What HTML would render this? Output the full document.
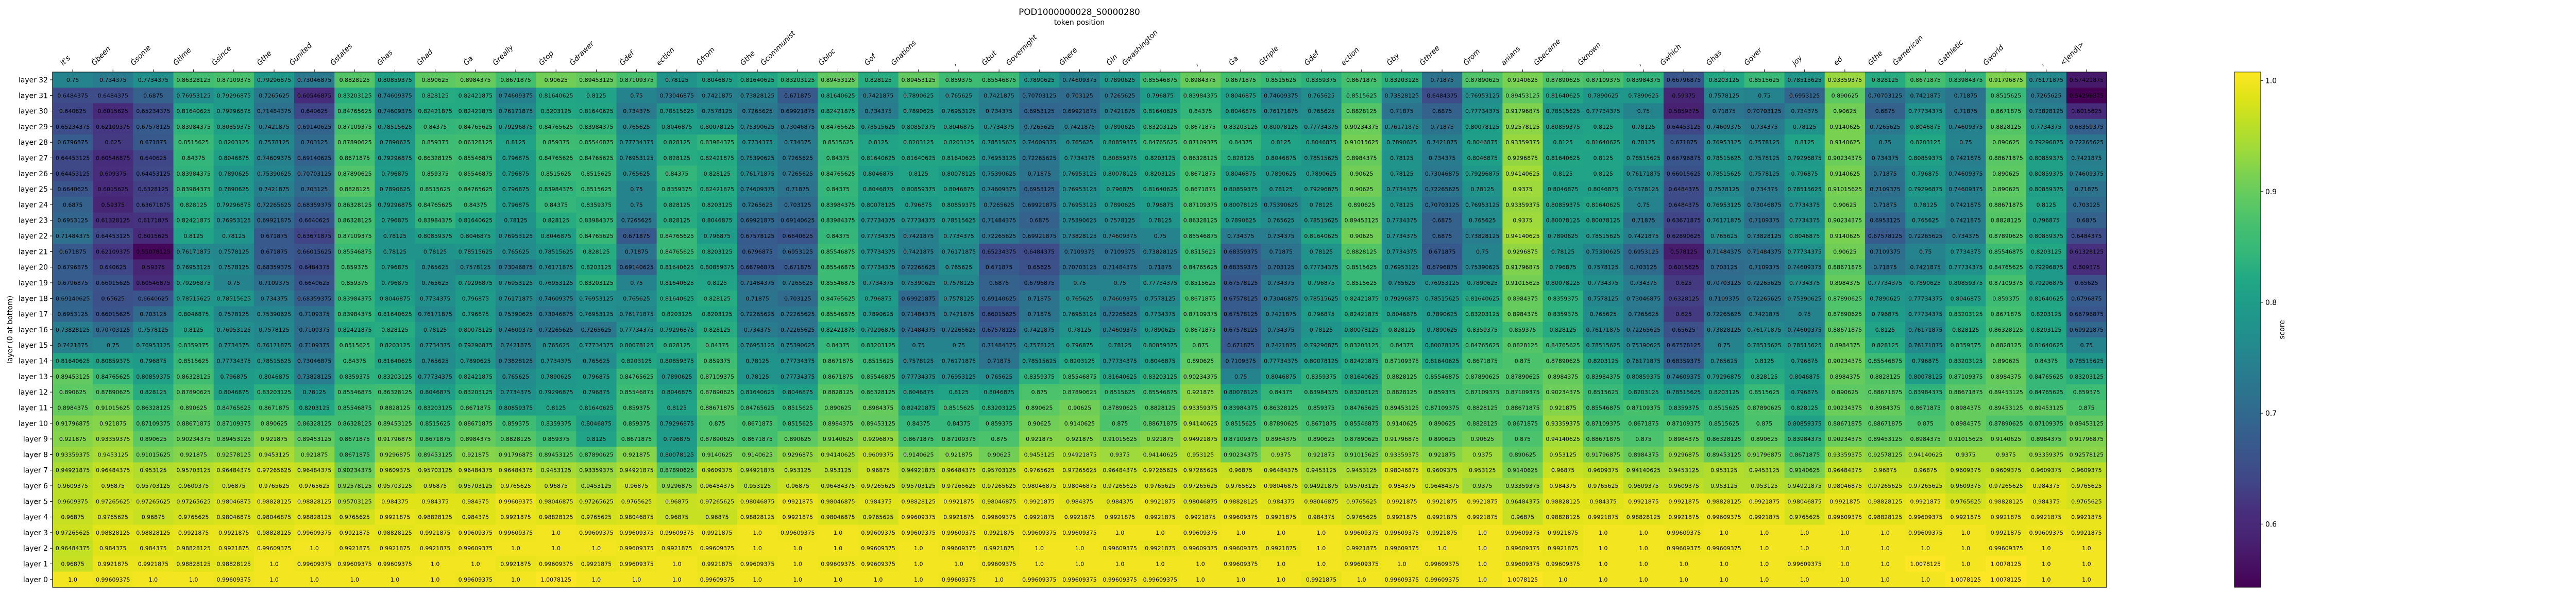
<!DOCTYPE html>
<html><head><meta charset="utf-8"><title>POD1000000028_S0000280</title>
<style>
html,body{margin:0;padding:0;background:#fff;}
svg{display:block;font-family:"DejaVu Sans","Liberation Sans",sans-serif;}
</style></head>
<body>
<svg id="chart" width="5100" height="1155" viewBox="0 0 5100 1155" xmlns="http://www.w3.org/2000/svg">
<text x="2095" y="29" font-size="16.7" text-anchor="middle">POD1000000028_S0000280</text>
<text x="2095" y="48" font-size="13.9" text-anchor="middle">token position</text>
<text x="0" y="0" font-size="13.9" text-anchor="middle" transform="translate(24,640) rotate(-90)">layer (0 at bottom)</text>
<g id="cells"></g>
<g id="xticks"></g>
<g id="yticks"></g>
<rect x="102" y="139.8" width="3987" height="1000.2" fill="none" stroke="#000" stroke-width="1.2"/>
<defs>
<linearGradient id="cbgrad" x1="0" y1="1" x2="0" y2="0"></linearGradient>
</defs>
<rect x="4337" y="139.8" width="51" height="1000.2" fill="url(#cbgrad)" stroke="#000" stroke-width="1"/>
<g id="cbticks"></g>
<text x="0" y="0" font-size="13.9" text-anchor="middle" transform="translate(4434,640) rotate(-90)">score</text>
</svg>
<script>
const colLabels = ["it's","Ġbeen","Ġsome","Ġtime","Ġsince","Ġthe","Ġunited","Ġstates","Ġhas","Ġhad","Ġa","Ġreally","Ġtop","Ġdrawer","Ġdef","ection","Ġfrom","Ġthe","Ġcommunist","Ġbloc","Ġof","Ġnations",",","Ġbut","Ġovernight","Ġhere","Ġin","Ġwashington",",","Ġa","Ġtriple","Ġdef","ection","Ġby","Ġthree","Ġrom","anians","Ġbecame","Ġknown",",","Ġwhich","Ġhas","Ġover","joy","ed","Ġthe","Ġamerican","Ġathletic","Ġworld",",","<|end|>"];
const cbTicks = [0.6,0.7,0.8,0.9,1.0];
const vmin = 0.54296875;
const vmax = 1.0078125;

const layer32 = [0.75,0.734375,0.7734375,0.86328125,0.87109375,0.79296875,0.73046875,0.8828125,0.80859375,0.890625,0.8984375,0.8671875,0.90625,
0.89453125,0.87109375,0.78125,0.8046875,0.81640625,0.83203125,0.89453125,0.828125,0.89453125,0.859375,0.85546875,0.7890625,0.74609375,
0.7890625,0.85546875,0.8984375,0.8671875,0.8515625,0.8359375,0.8671875,0.83203125,0.71875,0.87890625,0.9140625,0.87890625,0.87109375,
0.83984375,0.66796875,0.8203125,0.8515625,0.78515625,0.93359375,0.828125,0.8671875,0.83984375,0.91796875,0.76171875,0.57421875];
const layer31 = [0.6484375,0.6484375,0.6875,0.76953125,0.79296875,0.7265625,0.60546875,0.83203125,0.74609375,0.828125,0.82421875,0.74609375,0.81640625,
0.8125,0.75,0.73046875,0.7421875,0.73828125,0.671875,0.81640625,0.7421875,0.7890625,0.765625,0.7421875,0.70703125,0.703125,
0.7265625,0.796875,0.83984375,0.8046875,0.74609375,0.765625,0.8515625,0.73828125,0.6484375,0.76953125,0.89453125,0.81640625,0.7890625,
0.7890625,0.59375,0.7578125,0.75,0.6953125,0.890625,0.70703125,0.7421875,0.71875,0.8515625,0.7265625,0.54296875];
const layer30 = [0.640625,0.6015625,0.65234375,0.81640625,0.79296875,0.71484375,0.640625,0.84765625,0.74609375,0.82421875,0.82421875,0.76171875,0.8203125,
0.81640625,0.734375,0.78515625,0.7578125,0.7265625,0.69921875,0.82421875,0.734375,0.7890625,0.76953125,0.734375,0.6953125,0.69921875,
0.7421875,0.81640625,0.84375,0.8046875,0.76171875,0.765625,0.8828125,0.71875,0.6875,0.77734375,0.91796875,0.78515625,0.77734375,
0.75,0.5859375,0.71875,0.70703125,0.734375,0.90625,0.6875,0.77734375,0.71875,0.8671875,0.73828125,0.6015625];
const layer29 = [0.65234375,0.62109375,0.67578125,0.83984375,0.80859375,0.7421875,0.69140625,0.87109375,0.78515625,0.84375,0.84765625,0.79296875,0.84765625,
0.83984375,0.765625,0.8046875,0.80078125,0.75390625,0.73046875,0.84765625,0.78515625,0.80859375,0.8046875,0.7734375,0.7265625,0.7421875,
0.7890625,0.83203125,0.8671875,0.83203125,0.80078125,0.77734375,0.90234375,0.76171875,0.71875,0.80078125,0.92578125,0.80859375,0.8125,
0.78125,0.64453125,0.74609375,0.734375,0.78125,0.9140625,0.7265625,0.8046875,0.74609375,0.8828125,0.7734375,0.68359375];
const layer28 = [0.6796875,0.625,0.671875,0.8515625,0.8203125,0.7578125,0.703125,0.87890625,0.7890625,0.859375,0.86328125,0.8125,0.859375,
0.85546875,0.77734375,0.828125,0.83984375,0.7734375,0.734375,0.8515625,0.8125,0.8203125,0.8203125,0.78515625,0.74609375,0.765625,
0.80859375,0.84765625,0.87109375,0.84375,0.8125,0.8046875,0.91015625,0.7890625,0.7421875,0.8046875,0.93359375,0.8125,0.81640625,
0.78125,0.671875,0.76953125,0.7578125,0.8125,0.9140625,0.75,0.8203125,0.75,0.890625,0.79296875,0.72265625];
const layer27 = [0.64453125,0.60546875,0.640625,0.84375,0.8046875,0.74609375,0.69140625,0.8671875,0.79296875,0.86328125,0.85546875,0.796875,0.84765625,
0.84765625,0.76953125,0.828125,0.82421875,0.75390625,0.7265625,0.84375,0.81640625,0.81640625,0.81640625,0.76953125,0.72265625,0.7734375,
0.80859375,0.8203125,0.86328125,0.828125,0.8046875,0.78515625,0.8984375,0.78125,0.734375,0.8046875,0.9296875,0.81640625,0.8125,
0.78515625,0.66796875,0.78515625,0.7578125,0.79296875,0.90234375,0.734375,0.80859375,0.7421875,0.88671875,0.80859375,0.7421875];
const layer26 = [0.64453125,0.609375,0.64453125,0.83984375,0.7890625,0.75390625,0.70703125,0.87890625,0.796875,0.859375,0.85546875,0.796875,0.8515625,
0.8515625,0.765625,0.84375,0.828125,0.76171875,0.7265625,0.84765625,0.8046875,0.8125,0.80078125,0.75390625,0.71875,0.76953125,
0.80078125,0.8203125,0.8671875,0.8046875,0.7890625,0.7890625,0.90625,0.78125,0.73046875,0.79296875,0.94140625,0.8125,0.8125,
0.76171875,0.66015625,0.78515625,0.7578125,0.796875,0.9140625,0.71875,0.796875,0.74609375,0.890625,0.80859375,0.74609375];
const layer25 = [0.6640625,0.6015625,0.6328125,0.83984375,0.7890625,0.7421875,0.703125,0.8828125,0.7890625,0.8515625,0.84765625,0.796875,0.83984375,
0.8515625,0.75,0.8359375,0.82421875,0.74609375,0.71875,0.84375,0.8046875,0.80859375,0.8046875,0.74609375,0.6953125,0.76953125,
0.796875,0.81640625,0.8671875,0.80859375,0.78125,0.79296875,0.90625,0.7734375,0.72265625,0.78125,0.9375,0.8046875,0.8046875,
0.7578125,0.6484375,0.7578125,0.734375,0.78515625,0.91015625,0.7109375,0.79296875,0.74609375,0.890625,0.80859375,0.71875];
const layer24 = [0.6875,0.59375,0.63671875,0.828125,0.79296875,0.72265625,0.68359375,0.86328125,0.79296875,0.84765625,0.84375,0.796875,0.84375,
0.8359375,0.75,0.828125,0.8203125,0.7265625,0.703125,0.83984375,0.80078125,0.796875,0.80859375,0.7265625,0.69921875,0.76953125,
0.7890625,0.796875,0.87109375,0.80078125,0.75390625,0.78125,0.890625,0.78125,0.70703125,0.76953125,0.93359375,0.80859375,0.81640625,
0.75,0.6484375,0.76953125,0.73046875,0.7734375,0.90625,0.71875,0.78125,0.7421875,0.88671875,0.8125,0.703125];
const layer23 = [0.6953125,0.61328125,0.6171875,0.82421875,0.76953125,0.69921875,0.6640625,0.86328125,0.796875,0.83984375,0.81640625,0.78125,0.828125,
0.83984375,0.7265625,0.828125,0.8046875,0.69921875,0.69140625,0.83984375,0.77734375,0.77734375,0.78515625,0.71484375,0.6875,0.75390625,
0.7578125,0.78125,0.86328125,0.7890625,0.765625,0.78515625,0.89453125,0.7734375,0.6875,0.765625,0.9375,0.80078125,0.80078125,
0.71875,0.63671875,0.76171875,0.7109375,0.7734375,0.90234375,0.6953125,0.765625,0.7421875,0.8828125,0.796875,0.6875];
const layer22 = [0.71484375,0.64453125,0.6015625,0.8125,0.78125,0.671875,0.63671875,0.87109375,0.78125,0.80859375,0.8046875,0.76953125,0.8046875,
0.84765625,0.671875,0.84765625,0.796875,0.67578125,0.6640625,0.84375,0.77734375,0.7421875,0.7734375,0.72265625,0.69921875,0.73828125,
0.74609375,0.75,0.85546875,0.734375,0.734375,0.81640625,0.90625,0.7734375,0.6875,0.73828125,0.94140625,0.7890625,0.78515625,
0.7421875,0.62890625,0.765625,0.73828125,0.8046875,0.9140625,0.67578125,0.72265625,0.734375,0.87890625,0.80859375,0.6484375];
const layer21 = [0.671875,0.62109375,0.55078125,0.76171875,0.7578125,0.671875,0.66015625,0.85546875,0.78125,0.78125,0.78515625,0.765625,0.78515625,
0.828125,0.71875,0.84765625,0.8203125,0.6796875,0.6953125,0.85546875,0.77734375,0.7421875,0.76171875,0.65234375,0.6484375,0.7109375,
0.7109375,0.73828125,0.8515625,0.68359375,0.71875,0.78125,0.8828125,0.7734375,0.671875,0.75,0.9296875,0.78125,0.75390625,
0.6953125,0.578125,0.71484375,0.71484375,0.77734375,0.90625,0.7109375,0.75,0.7734375,0.85546875,0.8203125,0.61328125];
const layer20 = [0.6796875,0.640625,0.59375,0.76953125,0.7578125,0.68359375,0.6484375,0.859375,0.796875,0.765625,0.7578125,0.73046875,0.76171875,
0.8203125,0.69140625,0.81640625,0.80859375,0.66796875,0.671875,0.85546875,0.77734375,0.72265625,0.765625,0.671875,0.65625,0.70703125,
0.71484375,0.71875,0.84765625,0.68359375,0.703125,0.77734375,0.8515625,0.76953125,0.6796875,0.75390625,0.91796875,0.796875,0.7578125,
0.703125,0.6015625,0.703125,0.7109375,0.74609375,0.88671875,0.71875,0.7421875,0.77734375,0.84765625,0.79296875,0.609375];
const layer19 = [0.6796875,0.66015625,0.60546875,0.79296875,0.75,0.7109375,0.6640625,0.859375,0.796875,0.765625,0.79296875,0.76953125,0.76953125,
0.83203125,0.75,0.81640625,0.8125,0.71484375,0.7265625,0.85546875,0.7734375,0.75390625,0.7578125,0.6875,0.6796875,0.75,
0.75,0.77734375,0.8515625,0.67578125,0.734375,0.796875,0.8515625,0.765625,0.76953125,0.7890625,0.91015625,0.80078125,0.7734375,
0.734375,0.625,0.70703125,0.72265625,0.7734375,0.8984375,0.77734375,0.7890625,0.80859375,0.87109375,0.79296875,0.65625];
const layer18 = [0.69140625,0.65625,0.6640625,0.78515625,0.78515625,0.734375,0.68359375,0.83984375,0.8046875,0.7734375,0.796875,0.76171875,0.74609375,
0.76953125,0.765625,0.81640625,0.828125,0.71875,0.703125,0.84765625,0.796875,0.69921875,0.7578125,0.69140625,0.71875,0.765625,
0.74609375,0.7578125,0.8671875,0.67578125,0.73046875,0.78515625,0.82421875,0.79296875,0.78515625,0.81640625,0.8984375,0.8359375,0.7578125,
0.73046875,0.6328125,0.7109375,0.72265625,0.75390625,0.87890625,0.7890625,0.77734375,0.8046875,0.859375,0.81640625,0.6796875];
const layer17 = [0.6953125,0.66015625,0.703125,0.8046875,0.7578125,0.75390625,0.7109375,0.83984375,0.81640625,0.76171875,0.796875,0.75390625,0.73046875,
0.76953125,0.76171875,0.8203125,0.8203125,0.72265625,0.72265625,0.85546875,0.7890625,0.71484375,0.7421875,0.66015625,0.71875,0.76953125,
0.72265625,0.7734375,0.87109375,0.67578125,0.7421875,0.796875,0.82421875,0.8046875,0.7890625,0.83203125,0.8984375,0.8359375,0.765625,
0.7265625,0.625,0.72265625,0.7421875,0.75,0.87890625,0.796875,0.77734375,0.83203125,0.8671875,0.8203125,0.66796875];
const layer16 = [0.73828125,0.70703125,0.7578125,0.8125,0.76953125,0.7578125,0.7109375,0.82421875,0.828125,0.78125,0.80078125,0.74609375,0.72265625,
0.7265625,0.77734375,0.79296875,0.828125,0.734375,0.72265625,0.82421875,0.79296875,0.71484375,0.72265625,0.67578125,0.7421875,0.78125,
0.74609375,0.7890625,0.8671875,0.67578125,0.734375,0.78125,0.80078125,0.828125,0.7890625,0.8359375,0.859375,0.828125,0.76171875,
0.72265625,0.65625,0.73828125,0.76171875,0.74609375,0.88671875,0.8125,0.76171875,0.828125,0.86328125,0.8203125,0.69921875];
const layer15 = [0.7421875,0.75,0.76953125,0.8359375,0.7734375,0.76171875,0.7109375,0.8515625,0.8203125,0.7734375,0.79296875,0.7421875,0.765625,
0.77734375,0.80078125,0.828125,0.84375,0.76953125,0.75390625,0.84375,0.83203125,0.75,0.75,0.71484375,0.7578125,0.796875,
0.78125,0.80859375,0.875,0.671875,0.7421875,0.79296875,0.83203125,0.84375,0.80078125,0.84765625,0.8828125,0.84765625,0.78515625,
0.75390625,0.67578125,0.75,0.78515625,0.78515625,0.8984375,0.828125,0.76171875,0.8359375,0.8828125,0.81640625,0.75];
const layer14 = [0.81640625,0.80859375,0.796875,0.8515625,0.77734375,0.78515625,0.73046875,0.84375,0.81640625,0.765625,0.7890625,0.73828125,0.7734375,
0.765625,0.8203125,0.80859375,0.859375,0.78125,0.77734375,0.8671875,0.8515625,0.7578125,0.76171875,0.71875,0.78515625,0.8203125,
0.77734375,0.8046875,0.890625,0.7109375,0.77734375,0.80078125,0.82421875,0.87109375,0.81640625,0.8671875,0.875,0.87890625,0.8203125,
0.76171875,0.68359375,0.765625,0.8125,0.796875,0.90234375,0.85546875,0.796875,0.83203125,0.890625,0.84375,0.78515625];
const layer13 = [0.89453125,0.84765625,0.80859375,0.86328125,0.796875,0.8046875,0.73828125,0.8359375,0.83203125,0.77734375,0.82421875,0.765625,0.7890625,
0.796875,0.84765625,0.7890625,0.87109375,0.78125,0.77734375,0.8671875,0.85546875,0.77734375,0.76953125,0.765625,0.8359375,0.85546875,
0.81640625,0.83203125,0.90234375,0.75,0.8046875,0.8359375,0.81640625,0.8828125,0.85546875,0.87890625,0.87890625,0.8984375,0.83984375,
0.80859375,0.74609375,0.79296875,0.828125,0.8046875,0.8984375,0.8828125,0.80078125,0.87109375,0.8984375,0.84765625,0.83203125];
const layer12 = [0.890625,0.87890625,0.828125,0.87890625,0.8046875,0.83203125,0.78125,0.85546875,0.86328125,0.8046875,0.83203125,0.7734375,0.79296875,
0.796875,0.85546875,0.8046875,0.87890625,0.81640625,0.8046875,0.8828125,0.86328125,0.8046875,0.8125,0.8046875,0.875,0.87890625,
0.8515625,0.85546875,0.921875,0.80078125,0.84375,0.83984375,0.83203125,0.8828125,0.859375,0.87109375,0.87109375,0.90234375,0.8515625,
0.8203125,0.78515625,0.8203125,0.8515625,0.796875,0.890625,0.88671875,0.83984375,0.88671875,0.89453125,0.84765625,0.859375];
const layer11 = [0.8984375,0.91015625,0.86328125,0.890625,0.84765625,0.8671875,0.8203125,0.85546875,0.8828125,0.83203125,0.8671875,0.80859375,0.8125,
0.81640625,0.859375,0.8125,0.88671875,0.84765625,0.8515625,0.890625,0.8984375,0.82421875,0.8515625,0.83203125,0.890625,0.90625,
0.87890625,0.8828125,0.93359375,0.83984375,0.86328125,0.859375,0.84765625,0.89453125,0.87109375,0.8828125,0.88671875,0.921875,0.85546875,
0.87109375,0.8359375,0.8515625,0.87890625,0.828125,0.90234375,0.8984375,0.8671875,0.8984375,0.89453125,0.89453125,0.875];
const layer10 = [0.91796875,0.921875,0.87109375,0.88671875,0.87109375,0.890625,0.86328125,0.86328125,0.89453125,0.8515625,0.88671875,0.859375,0.8359375,
0.8046875,0.859375,0.79296875,0.875,0.8671875,0.8515625,0.8984375,0.89453125,0.84375,0.84375,0.859375,0.90625,0.9140625,
0.875,0.88671875,0.94140625,0.8515625,0.87890625,0.8671875,0.85546875,0.9140625,0.890625,0.8828125,0.8671875,0.93359375,0.87109375,
0.8671875,0.87109375,0.8515625,0.875,0.80859375,0.88671875,0.88671875,0.875,0.8984375,0.87890625,0.87109375,0.89453125];
const layer9 = [0.921875,0.93359375,0.890625,0.90234375,0.89453125,0.921875,0.89453125,0.8671875,0.91796875,0.8671875,0.8984375,0.8828125,0.859375,
0.8125,0.8671875,0.796875,0.87890625,0.8671875,0.890625,0.9140625,0.9296875,0.8671875,0.87109375,0.875,0.921875,0.921875,
0.91015625,0.921875,0.94921875,0.87109375,0.8984375,0.890625,0.87890625,0.91796875,0.890625,0.90625,0.875,0.94140625,0.88671875,
0.875,0.8984375,0.86328125,0.890625,0.83984375,0.90234375,0.89453125,0.8984375,0.91015625,0.9140625,0.8984375,0.91796875];
const layer8 = [0.93359375,0.9453125,0.91015625,0.921875,0.92578125,0.9453125,0.921875,0.8671875,0.9296875,0.89453125,0.921875,0.91796875,0.89453125,
0.87890625,0.921875,0.80078125,0.9140625,0.9140625,0.9296875,0.94140625,0.9609375,0.9140625,0.921875,0.90625,0.9453125,0.94921875,
0.9375,0.94140625,0.953125,0.90234375,0.9375,0.921875,0.91015625,0.93359375,0.921875,0.9375,0.890625,0.953125,0.91796875,
0.8984375,0.9296875,0.89453125,0.91796875,0.8671875,0.93359375,0.92578125,0.94140625,0.9375,0.9375,0.93359375,0.92578125];
const layer7 = [0.94921875,0.96484375,0.953125,0.95703125,0.96484375,0.97265625,0.96484375,0.90234375,0.9609375,0.95703125,0.96484375,0.96484375,0.9453125,
0.93359375,0.94921875,0.87890625,0.9609375,0.94921875,0.953125,0.953125,0.96875,0.94921875,0.96484375,0.95703125,0.9765625,0.97265625,
0.96484375,0.97265625,0.97265625,0.96875,0.96484375,0.9453125,0.9453125,0.98046875,0.9609375,0.953125,0.9140625,0.96875,0.9609375,
0.94140625,0.9453125,0.953125,0.9453125,0.9140625,0.96484375,0.96875,0.96875,0.9609375,0.9609375,0.9609375,0.9609375];
const layer6 = [0.9609375,0.96875,0.95703125,0.9609375,0.96875,0.9765625,0.9765625,0.92578125,0.95703125,0.96875,0.95703125,0.9765625,0.96875,
0.9453125,0.96875,0.9296875,0.96484375,0.953125,0.96875,0.96484375,0.97265625,0.95703125,0.97265625,0.97265625,0.98046875,0.98046875,
0.97265625,0.9765625,0.97265625,0.9765625,0.98046875,0.94921875,0.95703125,0.984375,0.96484375,0.9375,0.93359375,0.984375,0.9765625,
0.9609375,0.9609375,0.953125,0.953125,0.94921875,0.98046875,0.97265625,0.97265625,0.9609375,0.97265625,0.984375,0.9765625];
const layer5 = [0.9609375,0.97265625,0.97265625,0.97265625,0.98046875,0.98828125,0.98828125,0.95703125,0.984375,0.984375,0.984375,0.99609375,0.98046875,
0.97265625,0.9765625,0.96875,0.97265625,0.98046875,0.9921875,0.98046875,0.984375,0.98828125,0.9921875,0.98046875,0.9921875,0.984375,
0.984375,0.9921875,0.98046875,0.98828125,0.984375,0.98046875,0.9765625,0.9921875,0.9921875,0.9921875,0.96484375,0.98828125,0.984375,
0.9921875,0.9921875,0.98828125,0.9921875,0.98046875,0.9921875,0.98828125,0.9921875,0.9765625,0.98828125,0.984375,0.9765625];
const layer4 = [0.96875,0.9765625,0.96875,0.9765625,0.98046875,0.98046875,0.98828125,0.9765625,0.9921875,0.98828125,0.984375,0.9921875,0.98828125,
0.9765625,0.98046875,0.96875,0.96875,0.98828125,0.9921875,0.98046875,0.9765625,0.99609375,0.9921875,0.99609375,0.9921875,0.9921875,
0.9921875,0.9921875,0.9921875,0.99609375,0.9921875,0.984375,0.9765625,0.9921875,0.9921875,0.9921875,0.96875,0.98828125,0.9921875,
0.98828125,0.9921875,0.99609375,0.9921875,0.9765625,0.99609375,0.98828125,0.99609375,0.9921875,0.9921875,0.9921875,0.9921875];
const layer3 = [0.97265625,0.98828125,0.98828125,0.9921875,0.9921875,0.98828125,0.99609375,0.9921875,0.98828125,0.9921875,0.99609375,0.99609375,1.0,
0.99609375,0.99609375,0.99609375,0.9921875,1.0,0.99609375,1.0,0.99609375,0.99609375,0.99609375,0.9921875,0.99609375,0.99609375,
1.0,1.0,0.99609375,1.0,1.0,1.0,0.99609375,0.99609375,0.9921875,1.0,0.99609375,0.9921875,1.0,
1.0,0.99609375,1.0,1.0,1.0,1.0,1.0,0.99609375,1.0,0.9921875,0.99609375,0.9921875];
const layer2 = [0.96484375,0.984375,0.984375,0.98828125,0.9921875,0.99609375,1.0,0.9921875,0.9921875,0.9921875,0.99609375,1.0,1.0,
1.0,0.99609375,0.9921875,0.99609375,1.0,1.0,1.0,0.99609375,1.0,0.99609375,0.9921875,1.0,1.0,
0.99609375,0.9921875,0.99609375,0.99609375,0.9921875,1.0,0.9921875,0.99609375,1.0,1.0,0.99609375,0.9921875,1.0,
1.0,0.99609375,0.99609375,1.0,1.0,1.0,1.0,1.0,1.0,0.99609375,1.0,1.0];
const layer1 = [0.96875,0.9921875,0.9921875,0.98828125,0.98828125,1.0,0.99609375,0.99609375,0.99609375,1.0,1.0,0.9921875,0.99609375,
0.9921875,0.99609375,1.0,0.9921875,0.99609375,1.0,0.99609375,0.99609375,1.0,1.0,0.99609375,1.0,1.0,
1.0,1.0,1.0,0.99609375,1.0,1.0,0.99609375,1.0,0.99609375,1.0,0.99609375,0.99609375,1.0,
1.0,1.0,1.0,1.0,0.99609375,1.0,1.0,1.0078125,1.0,1.0078125,1.0,1.0];
const layer0 = [1.0,0.99609375,1.0,1.0,0.99609375,1.0,1.0,1.0,1.0,1.0,0.99609375,1.0,1.0078125,
1.0,1.0,1.0,0.99609375,1.0,1.0,1.0,1.0,1.0,0.99609375,1.0,0.99609375,0.99609375,
0.99609375,0.99609375,1.0,1.0,1.0,0.9921875,1.0,0.99609375,0.99609375,1.0,1.0078125,1.0,1.0,
1.0,1.0,1.0,1.0,1.0,1.0,1.0,1.0,1.0078125,1.0078125,1.0,1.0];

const rows = [layer32,layer31,layer30,layer29,layer28,layer27,layer26,layer25,layer24,layer23,layer22,layer21,layer20,layer19,layer18,layer17,layer16,layer15,layer14,layer13,layer12,layer11,layer10,layer9,layer8,layer7,layer6,layer5,layer4,layer3,layer2,layer1,layer0];
const rowLabels = rows.map((r,i)=>"layer " + (rows.length-1-i));

const NS = "http://www.w3.org/2000/svg";
const X0 = 102, X1 = 4089, Y0 = 139.8, Y1 = 1140;
const nCols = colLabels.length, nRows = rows.length;
const cw = (X1-X0)/nCols, rh = (Y1-Y0)/nRows;
function xPos(c){ return X0 + c*cw; }
function yPos(r){ return Y0 + r*rh; }

const vir = ["#440154","#471365","#482475","#472f7d","#414487","#3b528b","#355f8d","#2f6c8e","#2a788e","#25848e","#21918c","#1e9c89","#22a884","#35b779","#44bf70","#5ec962","#7ad151","#9fda3a","#bddf26","#dfe318","#fde725"];
function hex2rgb(h){ return [parseInt(h.slice(1,3),16),parseInt(h.slice(3,5),16),parseInt(h.slice(5,7),16)]; }
function viridis(t){
  t = Math.max(0, Math.min(1, t));
  const p = t*(vir.length-1), i = Math.min(Math.floor(p), vir.length-2), f = p-i;
  const a = hex2rgb(vir[i]), b = hex2rgb(vir[i+1]);
  return "rgb(" + a.map((v,k)=>Math.round(v+(b[k]-v)*f)).join(",") + ")";
}
function colorOf(v){ return viridis((v-vmin)/(vmax-vmin)); }
function fmt(v){ return Number.isInteger(v) ? v.toFixed(1) : String(v); }
function mk(tag, attrs, parent){
  const el = document.createElementNS(NS, tag);
  for (const k in attrs) el.setAttribute(k, attrs[k]);
  parent.appendChild(el);
  return el;
}

const cells = document.getElementById("cells");
rows.forEach((row, r) => {
  row.forEach((v, c) => {
    const rect = mk("rect", {x: xPos(c), y: yPos(r), width: cw+0.6, height: rh+0.6, fill: colorOf(v)}, cells);
    
    
    const t = mk("text", {x: xPos(c)+cw/2, y: yPos(r)+rh/2+4, "font-size": 11, "text-anchor": "middle", fill: "#000"}, cells);
    
    
    t.textContent = fmt(v);
  });
});

const yt = document.getElementById("yticks");
rowLabels.forEach((lab, r) => {
  const cy = yPos(r)+rh/2;
  const tick = mk("line", {x1: X0-5, x2: X0, y1: cy, y2: cy, stroke: "#000", "stroke-width": 1}, yt);
  
  
  const t = mk("text", {x: X0-9, y: cy+5, "font-size": 13.9, "text-anchor": "end"}, yt);
  
  
  t.textContent = lab;
});

const xt = document.getElementById("xticks");
colLabels.forEach((lab, c) => {
  const cx = xPos(c)+cw/2;
  const tick = mk("line", {x1: cx, x2: cx, y1: Y0-5, y2: Y0, stroke: "#000", "stroke-width": 1}, xt);
  
  
  const t = mk("text", {x: 0, y: 0, "font-size": 13.9, "font-style": "italic"}, xt);
  
  
  t.textContent = lab;
  let L = 0;
  try { L = t.getComputedTextLength(); } catch(e) { L = lab.length*8.3; }
  if (!L) L = lab.length*8.3;
  const d = L*Math.SQRT1_2;
  const sx = cx - d - 4, sy = Y0 - 12;
  t.setAttribute("transform", "translate(" + sx + "," + sy + ") rotate(-45)");
});

const grad = document.getElementById("cbgrad");
for (let i = 0; i <= 40; i++) {
  const s = mk("stop", {offset: (i/40), "stop-color": viridis(i/40)}, grad);
}

const cbt = document.getElementById("cbticks");
const CB_TOP = 139.8, CB_BOT = 1140, CB_R = 4388;
function cbY(v){ return CB_BOT - (v-vmin)/(vmax-vmin)*(CB_BOT-CB_TOP); }
cbTicks.forEach(v => {
  const y = cbY(v);
  const tick = mk("line", {x1: CB_R, x2: CB_R+5, y1: y, y2: y, stroke: "#000", "stroke-width": 1}, cbt);
  
  
  const t = mk("text", {x: CB_R+9, y: y+5, "font-size": 13.9}, cbt);
  
  
  t.textContent = v.toFixed(1);
});
</script>
</body></html>
